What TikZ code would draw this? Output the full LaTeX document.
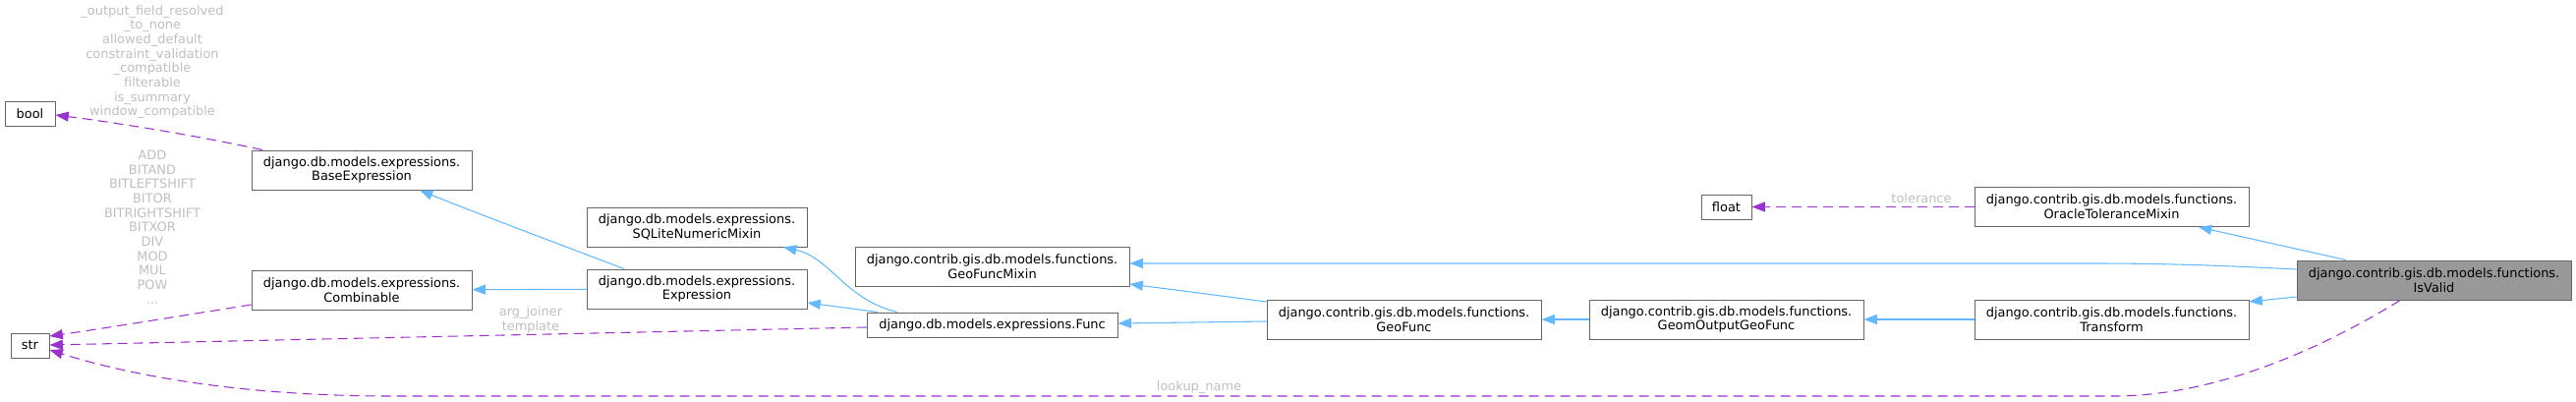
\documentclass[tikz,border=0pt]{standalone}
\usepackage{fontspec}
\setmainfont{DejaVu Sans}
\usetikzlibrary{arrows.meta}

\definecolor{inhblue}{HTML}{63B8FF}
\definecolor{usepurple}{HTML}{9A32CD}
\definecolor{lblgrey}{HTML}{BFBFBF}
\definecolor{boxgrey}{HTML}{666666}
\definecolor{selgrey}{HTML}{999999}

\begin{document}
\begin{tikzpicture}[x=0.75pt, y=-0.75pt, font=\fontsize{9.7}{11}\selectfont,
  klass/.style={draw=boxgrey, line width=0.75pt, fill=white, align=center, inner sep=0pt, minimum height=30pt},
  oneline/.style={klass, minimum height=18.75pt},
  inherit/.style={draw=inhblue, line width=0.8pt, -{Triangle[length=10pt,width=7.5pt]}},
  uses/.style={draw=usepurple, line width=0.8pt, dash pattern=on 7.5pt off 4.5pt, -{Triangle[length=10pt,width=7.5pt]}},
  edgelbl/.style={text=lblgrey, align=center, inner sep=0pt}]
  % Coordinates are pixels of the 2621x408 sheet, y running down. Blue solid = inherits from,
  % purple dashed = holds an attribute of that type (the grey words are the attribute names).
  \useasboundingbox (0,0) rectangle (2621,408);
  \node[oneline, minimum width=38.25pt] (bool) at (30.5,115.5) {bool};
  \node[oneline, minimum width=29.25pt] (str) at (30.5,351.5) {str};
  \node[klass, minimum width=168pt] (baseexpr) at (368,173) {django.db.models.expressions.\\BaseExpression};
  \node[klass, minimum width=168pt] (combinable) at (368,295) {django.db.models.expressions.\\Combinable};
  \node[klass, minimum width=168pt] (sqlite) at (709,231) {django.db.models.expressions.\\SQLiteNumericMixin};
  \node[klass, minimum width=168pt] (expr) at (709,294) {django.db.models.expressions.\\Expression};
  \node[klass, minimum width=209.25pt] (gfmixin) at (1009.5,271) {django.contrib.gis.db.models.functions.\\GeoFuncMixin};
  \node[oneline, minimum width=191.25pt] (func) at (1009.5,330.5) {django.db.models.expressions.Func};
  \node[klass, minimum width=209.25pt] (geofunc) at (1428.5,325) {django.contrib.gis.db.models.functions.\\GeoFunc};
  \node[klass, minimum width=209.25pt] (geomout) at (1756.5,325) {django.contrib.gis.db.models.functions.\\GeomOutputGeoFunc};
  \node[oneline, minimum width=38.25pt] (float) at (1756.5,210.5) {float};
  \node[klass, minimum width=209.25pt] (oracle) at (2148.5,210.5) {django.contrib.gis.db.models.functions.\\OracleToleranceMixin};
  \node[klass, minimum width=209.25pt] (transform) at (2148.5,325) {django.contrib.gis.db.models.functions.\\Transform};
  \node[klass, minimum width=209.25pt, fill=selgrey] (isvalid) at (2476.5,285) {django.contrib.gis.db.models.functions.\\IsValid};
  % inheritance
  \draw[inherit] (isvalid.north -| 2387,0) -- (oracle.south -| 2237,0);
  \draw[inherit] (isvalid.west |- 0,274) .. controls (2260,270) and (2200,268) .. (2130,268) -- (gfmixin.east |- 0,268);
  \draw[inherit] (isvalid.west |- 0,302) -- (transform.east |- 0,307);
  \draw[inherit] (transform) -- (geomout);
  \draw[inherit] (geomout) -- (geofunc);
  \draw[inherit] (geofunc.west |- 0,327) -- (func.east |- 0,329);
  \draw[inherit] (geofunc.west |- 0,307) -- (gfmixin.east |- 0,289);
  \draw[inherit] (func.north -| 893,0) -- (expr.east |- 0,308);
  \draw[inherit] (func.north -| 913,0) .. controls (860,305) and (845,262) .. (sqlite.south -| 797,0);
  \draw[inherit] (expr) -- (combinable);
  \draw[inherit] (expr.north -| 635,0) .. controls (560,245) and (480,215) .. (baseexpr.south -| 427,0);
  % attributes
  \draw[uses] (baseexpr.north -| 267,0) .. controls (200,138) and (120,125) .. (bool.east |- 0,117);
  \draw[uses] (combinable.west |- 0,310) .. controls (180,322) and (100,335) .. (str.east |- 0,342);
  \draw[uses] (func.west |- 0,333) -- (str.east |- 0,351);
  \draw[uses] (isvalid.south -| 2442,0) .. controls (2370,350) and (2260,403) .. (2150,403) -- (400,403)
    .. controls (230,403) and (120,378) .. (str.east |- 0,356);
  \draw[uses] (oracle) -- (float);
  \node[edgelbl] (lblbool) at (155,63) {\_output\_field\_resolved\\\_to\_none\\allowed\_default\\constraint\_validation\\\_compatible\\filterable\\is\_summary\\window\_compatible};
  \node[edgelbl] (lblcomb) at (155,231) {ADD\\BITAND\\BITLEFTSHIFT\\BITOR\\BITRIGHTSHIFT\\BITXOR\\DIV\\MOD\\MUL\\POW\\...};
  \node[edgelbl] (lblfunc) at (540,325.5) {arg\_joiner\\template};
  \node[edgelbl] (lbllookup) at (1220,394) {lookup\_name};
  \node[edgelbl] (lbltol) at (1955,202) {tolerance};
\end{tikzpicture}
\end{document}
